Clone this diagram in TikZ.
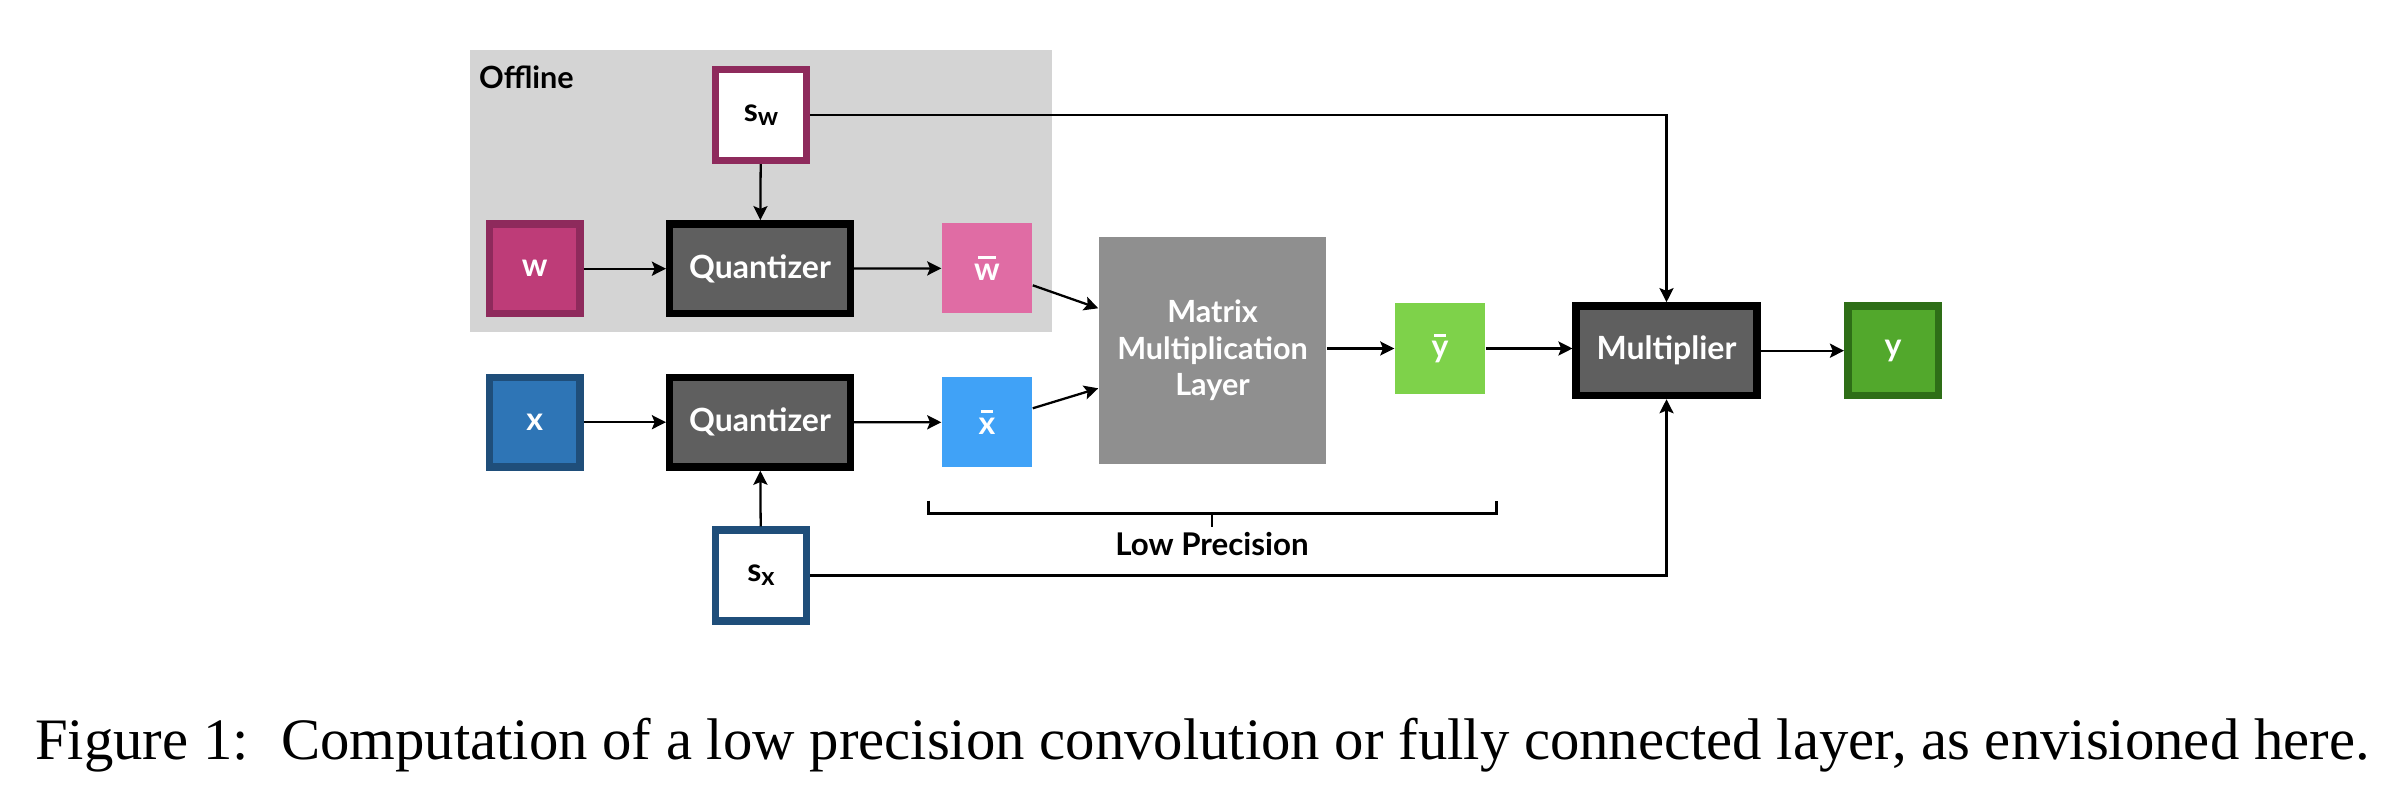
\documentclass[tikz,border=0pt]{standalone}
\usepackage{fontspec}
\setmainfont{Liberation Serif}
\newfontfamily\lato{Lato}
\usetikzlibrary{arrows.meta}
\definecolor{offgray}{HTML}{D4D4D4}
\definecolor{wfill}{HTML}{BE3C78}
\definecolor{wdark}{HTML}{8E2A5C}
\definecolor{wbarfill}{HTML}{E06CA4}
\definecolor{qfill}{HTML}{5F5F5F}
\definecolor{xfill}{HTML}{2E75B6}
\definecolor{xdark}{HTML}{1F4E7A}
\definecolor{xbarfill}{HTML}{40A2F7}
\definecolor{mmfill}{HTML}{8F8F8F}
\definecolor{ybarfill}{HTML}{7ED24A}
\definecolor{yfill}{HTML}{52A82C}
\definecolor{ydark}{HTML}{2E6E17}
\newcommand\barred[1]{\setbox0\hbox{#1}\rlap{\hbox to \wd0{\hss\raisebox{\dimexpr\ht0+1.3pt\relax}{\rule{0.7\wd0}{0.75pt}}\hss}}\box0}
\newcommand\ssub[1]{s\raisebox{-1.2pt}{\fontsize{7.2}{8}\selectfont #1}}
\begin{document}
\begin{tikzpicture}[x=0.01cm,y=-0.01cm,
  lbl/.style={font=\lato\bfseries\fontsize{9.1}{10.2}\selectfont},
  bordered/.style={lbl, draw, line width=2.13pt, inner sep=0pt, text=white, align=center},
  sq/.style={bordered, minimum width=0.905cm, minimum height=0.895cm},
  wide/.style={bordered, minimum width=1.805cm, minimum height=0.895cm, draw=black, fill=qfill},
  flat/.style={lbl, inner sep=0pt, text=white, minimum width=0.9cm, minimum height=0.9cm, align=center},
  arr/.style={-{Stealth[length=4pt,width=4pt,inset=0.8pt]}, line width=0.65pt},
  plain/.style={line width=0.75pt}]
\useasboundingbox (0,0) rectangle (2392,810);
\fill[offgray] (470,50) rectangle (1052,332);
\node[anchor=base west, inner sep=0pt, font=\lato\bfseries\fontsize{8.7}{10}\selectfont] (off) at (478.5,89) {Offline};

\node[sq, draw=wdark, fill=white, text=black, minimum height=0.905cm] (sw) at (761,115) {\ssub{w}};
\node[sq, draw=wdark, fill=wfill] (w) at (534.6,268.7) {w};
\node[wide] (qw) at (760,268.7) {Quantizer};
\node[flat, fill=wbarfill] (wbar) at (987,268.3) {\barred{w}};

\node[sq, draw=xdark, fill=xfill] (x) at (534.6,422.2) {x};
\node[wide] (qx) at (760,422.2) {Quantizer};
\node[flat, fill=xbarfill] (xbar) at (987,422.3) {\barred{x}};
\node[sq, draw=xdark, fill=white, text=black, minimum height=0.905cm] (sx) at (761,575.5) {\ssub{x}};

\node[fill=mmfill, text=white, minimum width=2.27cm, minimum height=2.27cm, inner sep=0pt, align=center, font=\lato\bfseries\fontsize{8.7}{10.3}\selectfont] (mm) at (1212.5,350.3) {Matrix\\Multiplication\\Layer};
\node[flat, fill=ybarfill] (ybar) at (1440,348.5) {\barred{y}};
\node[wide] (mult) at (1666.5,350.7) {Multiplier};
\node[sq, draw=ydark, fill=yfill] (y) at (1893,350.7) {y};

\draw[arr] (w) -- (qw);
\draw[arr] (qw) -- (wbar);
\draw[arr] (sw) -- (qw);
\draw[arr] (x) -- (qx);
\draw[arr] (qx) -- (xbar);
\draw[arr] (sx) -- (qx);
\draw[arr] ([yshift=-0.17cm]wbar.east) -- ([yshift=0.42cm]mm.west);
\draw[arr] ([yshift=0.14cm]xbar.east) -- ([yshift=-0.38cm]mm.west);
\draw[arr] (mm.east |- ybar.west) -- (ybar.west);
\draw[arr] (ybar.east) -- (mult.west |- ybar.east);
\draw[arr] (mult) -- (y);
\draw[arr] (sw.east) -| (mult.north);
\draw[arr] (sx.east) -| (mult.south);

\coordinate (bl) at (928.6,500.7);
\coordinate (br) at (1496.7,500.7);
\coordinate (bm) at (1212,513.3);
\coordinate (bt) at (1212,526.7);
\draw[plain] (bl) -- (928.6,513.3) -- (1496.7,513.3) -- (br);
\draw[plain] (bm) -- (bt);
\node[anchor=base, inner sep=0pt, font=\lato\bfseries\fontsize{8.9}{11}\selectfont] (lp) at (1212,555) {Low Precision};

\node[anchor=base west, inner sep=0pt, font=\fontsize{16.7}{20}\selectfont] (cap) at (34.4,759) {Figure 1:\hspace{0.55em}Computation of a low precision convolution or fully connected layer, as envisioned here.};
\end{tikzpicture}
\end{document}
